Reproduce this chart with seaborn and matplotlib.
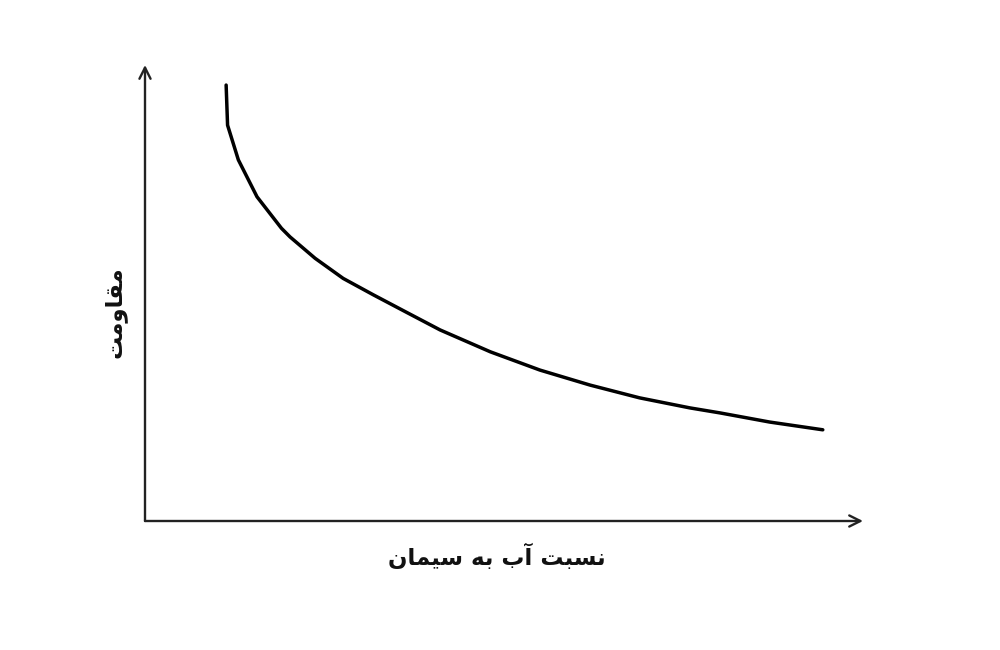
import seaborn as sns
import pandas as pd
import numpy as np
import matplotlib.pyplot as plt

# نقاط منحنی خوانده شده از تصویر (واحد دلخواه)
wc_ratio = [1.13, 1.15, 1.30, 1.56, 1.90, 2.02, 2.37, 2.76, 3.18, 3.65, 4.11, 4.81,
            5.50, 6.20, 6.89, 7.59, 8.01, 8.70, 9.44]
strength = [9.56, 8.68, 7.92, 7.11, 6.42, 6.23, 5.76, 5.32, 4.96, 4.57, 4.19, 3.71,
            3.31, 2.98, 2.70, 2.48, 2.37, 2.17, 2.00]

# متن فارسی به صورت شکل‌های نمایشی و ترتیب دیداری
x_label = "\uFEE5\uFE8E\uFEE4\uFBFF\uFEB3 \uFEEA\uFE91 \uFE8F\uFE81 \uFE96\uFE92\uFEB4\uFEE7"
y_label = "\uFE96\uFEE3\uFEED\uFE8E\uFED8\uFEE3"

df = pd.DataFrame({"wc": wc_ratio, "strength": strength})

sns.set_style("white")
plt.rcParams['font.family'] = ['DejaVu Sans']

fig = plt.figure(figsize=(10, 6.5), dpi=100)
ax = fig.add_axes([0.145, 129 / 650, 0.718, 456 / 650])

sns.lineplot(data=df, x="wc", y="strength", sort=False, color="black",
             linewidth=2.5, ax=ax)
ax.lines[0].set_solid_capstyle("round")
ax.lines[0].set_solid_joinstyle("round")

ax.set_xlim(0, 10)
ax.set_ylim(0, 10)
ax.set_xticks([])
ax.set_yticks([])
ax.set_xlabel("")
ax.set_ylabel("")
for s in ax.spines.values():
    s.set_visible(False)

# محورها با فلش
arrow = dict(arrowstyle="->", lw=1.7, color="#222222", mutation_scale=20,
             shrinkA=0, shrinkB=0)
ax.annotate("", xy=(1, 0), xytext=(0, 0), xycoords="axes fraction",
            textcoords="axes fraction", arrowprops=arrow, annotation_clip=False)
ax.annotate("", xy=(0, 1), xytext=(0, 0), xycoords="axes fraction",
            textcoords="axes fraction", arrowprops=arrow, annotation_clip=False)

fig.text(0.497, 1 - 557 / 650, x_label, ha="center", va="center",
         fontsize=16.5, fontweight="bold", color="#111111")
fig.text(0.115, 1 - 312 / 650, y_label, ha="center", va="center",
         rotation=90, fontsize=16.5, fontweight="bold", color="#111111")

fig.savefig("out.png", dpi=100, facecolor="white")
